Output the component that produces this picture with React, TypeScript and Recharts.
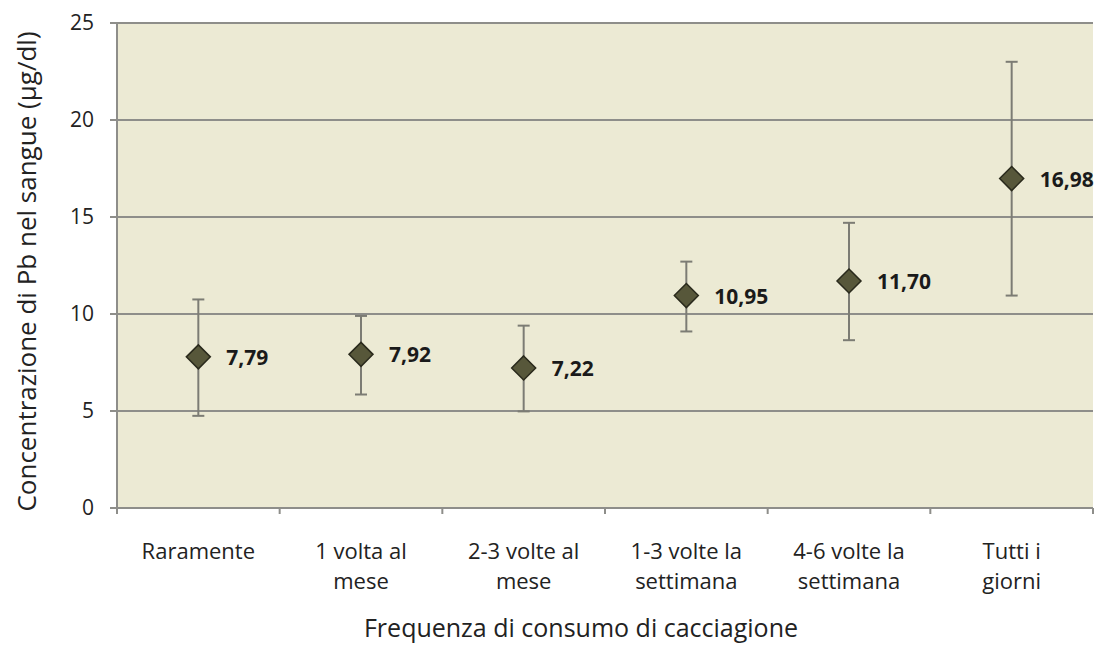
import { ComposedChart, Scatter, XAxis, YAxis, CartesianGrid, ErrorBar, LabelList } from 'recharts'

const categories = [
  ['Raramente'],
  ['1 volta al', 'mese'],
  ['2-3 volte al', 'mese'],
  ['1-3 volte la', 'settimana'],
  ['4-6 volte la', 'settimana'],
  ['Tutti i', 'giorni'],
]
const means = [7.79, 7.92, 7.22, 10.95, 11.7, 16.98]
const lows = [4.75, 5.85, 4.98, 9.1, 8.65, 10.95]
const highs = [10.75, 9.9, 9.4, 12.7, 14.7, 23.0]
const yTicks = [0, 5, 10, 15, 20, 25]

const data = categories.map((c, i) => ({
  name: c.join(' '),
  lines: c,
  value: means[i],
  err: [means[i] - lows[i], highs[i] - means[i]],
}))

const FONT = '"Open Sans", sans-serif'
const GRID = '#8e8e8a'

const Diamond = (props: any) => {
  const { cx, cy } = props
  const r = 12
  return (
    <path
      d={`M${cx},${cy - r} L${cx + r},${cy} L${cx},${cy + r} L${cx - r},${cy} Z`}
      fill="#57573a"
      stroke="#2a2a1c"
      strokeWidth={1.5}
    />
  )
}

const CategoryTick = (props: any) => {
  const { x, y, index } = props
  const item = data[index]
  const half = (1093 - 117) / 12
  return (
    <g>
      <line x1={x - half} y1={y - 8} x2={x - half} y2={y - 2} stroke={GRID} strokeWidth={2} />
      {index === data.length - 1 && (
        <line x1={x + half} y1={y - 8} x2={x + half} y2={y - 2} stroke={GRID} strokeWidth={2} />
      )}
      {item.lines.map((l: string, i: number) => (
        <text key={i} x={x} y={y + 43 + i * 30} textAnchor="middle" fill="#222" fontSize={22} fontFamily={FONT}>
          {l}
        </text>
      ))}
    </g>
  )
}

const ValueLabel = (props: any) => {
  const { x, y, width, height, value } = props
  const cx = x + (width || 0) / 2
  const cy = y + (height || 0) / 2
  return (
    <text x={cx + 28} y={cy} dominantBaseline="central" fontWeight="bold" fontSize={21} fill="#1a1a1a" fontFamily={FONT}>
      {value.toFixed(2).replace('.', ',')}
    </text>
  )
}

const XTitle = (props: any) => {
  const { viewBox } = props
  const cx = viewBox.x + viewBox.width / 2 - 24
  return (
    <text x={cx} y={637} textAnchor="middle" fontSize={25} fill="#222" fontFamily={FONT}>
      Frequenza di consumo di cacciagione
    </text>
  )
}

const YTitle = (props: any) => {
  const { viewBox } = props
  const cy = viewBox.y + viewBox.height / 2 + 6
  return (
    <text
      x={26}
      y={cy}
      transform={`rotate(-90, 26, ${cy})`}
      textAnchor="middle"
      dominantBaseline="central"
      fontSize={26}
      fill="#222"
      fontFamily={FONT}
    >
      Concentrazione di Pb nel sangue (µg/dl)
    </text>
  )
}

export default function App() {
  return (
    <div style={{ position: 'absolute', left: 0, top: 0, background: '#fff' }}>
      <ComposedChart width={1097} height={649} data={data} margin={{ top: 23, right: 4, bottom: 0, left: 0 }}>
        <CartesianGrid vertical={false} fill="#ecead4" stroke={GRID} strokeWidth={2} />
        <XAxis
          dataKey="name"
          type="category"
          scale="band"
          height={141}
          axisLine={{ stroke: GRID, strokeWidth: 2 }}
          tickLine={false}
          tick={<CategoryTick />}
          interval={0}
          label={<XTitle />}
        />
        <YAxis
          type="number"
          domain={[0, 25]}
          ticks={yTicks}
          width={117}
          axisLine={{ stroke: GRID, strokeWidth: 2 }}
          tickLine={{ stroke: GRID, strokeWidth: 2 }}
          tickSize={7}
          tickMargin={16}
          tick={{ fontSize: 21, fill: '#222', fontFamily: FONT }}
          label={<YTitle />}
        />
        <Scatter dataKey="value" shape={<Diamond />} isAnimationActive={false}>
          <ErrorBar dataKey="err" direction="y" width={6} stroke="#7c7c74" strokeWidth={2} />
          <LabelList dataKey="value" content={<ValueLabel />} />
        </Scatter>
      </ComposedChart>
    </div>
  )
}
